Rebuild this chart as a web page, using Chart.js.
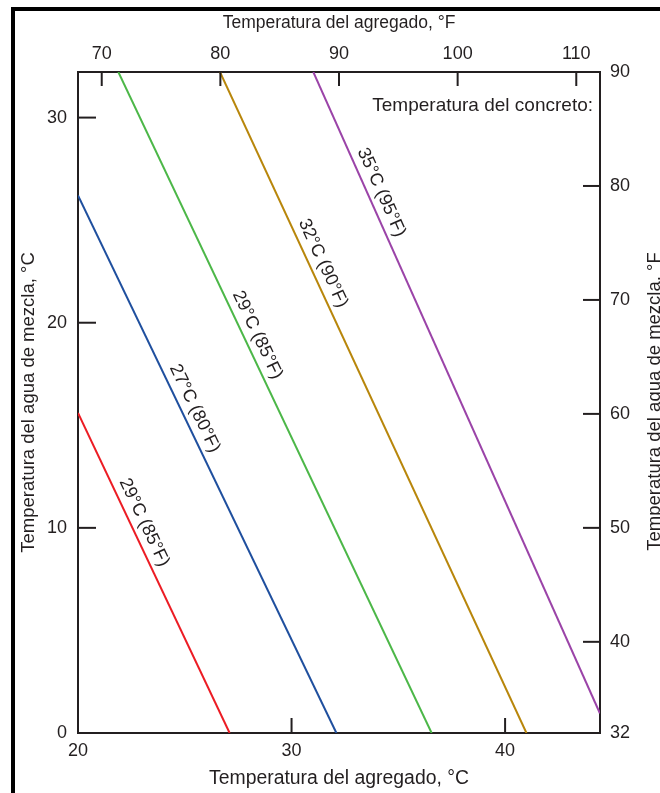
<!DOCTYPE html>
<html lang="es">
<head>
<meta charset="utf-8">
<title>Temperatura del concreto</title>
<script src="https://cdn.jsdelivr.net/npm/chart.js@4.4.1/dist/chart.umd.min.js"></script>
<style>
    html, body { margin: 0; padding: 0; background: #fff; overflow: hidden; }
    #contenedor { position: relative; width: 660px; height: 793px; }
    #marco { position: absolute; left: 11px; top: 7px; width: 700px; height: 820px;
             border-left: 4px solid #000; border-top: 4px solid #000; pointer-events: none; }
</style>
</head>
<body>
<div id="contenedor">
    <canvas id="graficoTemperatura"></canvas>
    <div id="marco"></div>
</div>
<script>
// Texto de cada curva (temperatura del concreto)
const etiquetas = ['29°C (85°F)', '27°C (80°F)', '29°C (85°F)', '32°C (90°F)', '35°C (95°F)'];

// Extremos de cada curva, en °C
const agregadoInicio = [20, 20, 21.89, 26.65, 31.02];
const aguaInicio = [15.6, 26.2, 32.22, 32.22, 32.22];
const agregadoFin = [27.1, 32.1, 36.56, 41.0, 44.44];
const aguaFin = [0, 0, 0, 0, 0.96];

// Dónde va la etiqueta sobre cada curva (temperatura del agregado, °C)
const posicionEtiqueta = [22.55, 24.92, 27.85, 30.92, 33.65];

// Rangos y marcas de los ejes
const rangoAgregadoF = [68, 112];
const rangoAguaF = [32, 90];
const ticksAgregadoC = [20, 30, 40];
const ticksAgregadoF = [70, 80, 90, 100, 110];
const ticksAguaC = [0, 10, 20, 30];
const ticksAguaF = [32, 40, 50, 60, 70, 80, 90];

const colores = ['#ec1c24', '#1f4f9e', '#4cb748', '#b8860b', '#9b44a8'];
const colorEje = '#231f20';
const familia = "'Liberation Sans', Arial, sans-serif";

function aCelsius(f) {
    return (f - 32) * 5 / 9;
}

// Fija las marcas de un eje a partir de una lista
function fijarTicks(lista) {
    return function (escala) {
        escala.ticks = lista.map(function (v) { return { value: v }; });
    };
}

// Marcas hacia adentro, etiquetas sobre las curvas y textos sueltos
const pluginDetalles = {
    id: 'detalles',
    afterDatasetsDraw(chart) {
        const ctx = chart.ctx;
        const area = chart.chartArea;
        ctx.save();

        ctx.strokeStyle = colorEje;
        ctx.lineWidth = 2;
        const largos = { x: 15, x2: 14, y: 18, y2: 17 };
        Object.keys(largos).forEach(function (id) {
            const escala = chart.scales[id];
            escala.ticks.forEach(function (t) {
                const p = escala.getPixelForValue(t.value);
                ctx.beginPath();
                if (id === 'x') { ctx.moveTo(p, area.bottom); ctx.lineTo(p, area.bottom - largos[id]); }
                if (id === 'x2') { ctx.moveTo(p, area.top); ctx.lineTo(p, area.top + largos[id]); }
                if (id === 'y') { ctx.moveTo(area.left, p); ctx.lineTo(area.left + largos[id], p); }
                if (id === 'y2') { ctx.moveTo(area.right, p); ctx.lineTo(area.right - largos[id], p); }
                ctx.stroke();
            });
        });

        // Etiquetas giradas siguiendo cada curva
        ctx.font = '18px ' + familia;
        ctx.fillStyle = colorEje;
        chart.data.datasets.forEach(function (ds, i) {
            const pts = chart.getDatasetMeta(i).data;
            const a = pts[0], b = pts[1];
            const angulo = Math.atan2(b.y - a.y, b.x - a.x);
            const px = chart.scales.x.getPixelForValue(posicionEtiqueta[i]);
            const t = (px - a.x) / (b.x - a.x);
            const py = a.y + t * (b.y - a.y);
            ctx.save();
            ctx.translate(px, py);
            ctx.rotate(angulo);
            ctx.textAlign = 'center';
            ctx.textBaseline = 'alphabetic';
            ctx.fillText(etiquetas[i], 0, -8);
            ctx.restore();
        });

        ctx.font = '19px ' + familia;
        ctx.textAlign = 'right';
        ctx.textBaseline = 'middle';
        ctx.fillText('Temperatura del concreto:', area.right - 7, area.top + 34);

        // Título del eje derecho (girado como el izquierdo, cortado por el borde)
        ctx.font = '18.5px ' + familia;
        ctx.translate(655, (area.top + area.bottom) / 2 - 1);
        ctx.rotate(-Math.PI / 2);
        ctx.textAlign = 'center';
        ctx.fillText('Temperatura del agua de mezcla, °F', 0, 0);
        ctx.restore();
    }
};

function plotarGrafico() {
    // Cada curva es una recta entre sus dos extremos
    let datasets = [];
    for (let i = 0; i < etiquetas.length; i++) {
        datasets.push({
            label: etiquetas[i],
            data: [
                { x: agregadoInicio[i], y: aguaInicio[i] },
                { x: agregadoFin[i], y: aguaFin[i] }
            ],
            borderColor: colores[i],
            borderWidth: 2,
            pointRadius: 0,
            tension: 0,
            xAxisID: 'x',
            yAxisID: 'y'
        });
    }

    const fuenteTicks = { family: familia, size: 18 };
    const sinRejilla = { display: false, drawTicks: false };
    const borde = { display: true, color: colorEje, width: 2 };

    const config = {
        type: 'line',
        data: { datasets: datasets },
        plugins: [pluginDetalles],
        options: {
            responsive: true,
            maintainAspectRatio: false,
            animation: false,
            layout: { padding: 0 },
            plugins: {
                legend: { display: false },
                tooltip: { enabled: false }
            },
            scales: {
                x: {
                    type: 'linear', position: 'bottom', display: true,
                    min: aCelsius(rangoAgregadoF[0]), max: aCelsius(rangoAgregadoF[1]),
                    afterBuildTicks: fijarTicks(ticksAgregadoC),
                    afterFit: function (e) { e.height = 60; },
                    grid: sinRejilla, border: borde,
                    ticks: { font: fuenteTicks, color: colorEje, padding: 7, autoSkip: false, maxRotation: 0 },
                    title: { display: true, text: 'Temperatura del agregado, °C', font: { family: familia, size: 19.4 },
                             color: colorEje, padding: { top: 0, bottom: 3 } }
                },
                x2: {
                    type: 'linear', position: 'top', display: true,
                    min: rangoAgregadoF[0], max: rangoAgregadoF[1],
                    afterBuildTicks: fijarTicks(ticksAgregadoF),
                    afterFit: function (e) { e.height = 72; },
                    grid: sinRejilla, border: borde,
                    ticks: { font: fuenteTicks, color: colorEje, padding: 7, autoSkip: false, maxRotation: 0 },
                    title: { display: true, text: 'Temperatura del agregado, °F', font: { family: familia, size: 17.5 },
                             color: colorEje, padding: { top: 13, bottom: 0 } }
                },
                y: {
                    type: 'linear', position: 'left', display: true,
                    min: aCelsius(rangoAguaF[0]), max: aCelsius(rangoAguaF[1]),
                    afterBuildTicks: fijarTicks(ticksAguaC),
                    afterFit: function (e) { e.width = 78; },
                    grid: sinRejilla, border: borde,
                    ticks: { font: fuenteTicks, color: colorEje, padding: 11, autoSkip: false },
                    title: { display: true, text: 'Temperatura del agua de mezcla, °C', font: { family: familia, size: 18.5 },
                             color: colorEje, padding: { top: 18, bottom: 0 } }
                },
                y2: {
                    type: 'linear', position: 'right', display: true,
                    min: rangoAguaF[0], max: rangoAguaF[1],
                    afterBuildTicks: fijarTicks(ticksAguaF),
                    afterFit: function (e) { e.width = 60; },
                    grid: sinRejilla, border: borde,
                    ticks: { font: fuenteTicks, color: colorEje, padding: 10, autoSkip: false }
                }
            }
        }
    };

    let myChart = new Chart(document.getElementById('graficoTemperatura'), config);
}

plotarGrafico();
</script>
</body>
</html>
